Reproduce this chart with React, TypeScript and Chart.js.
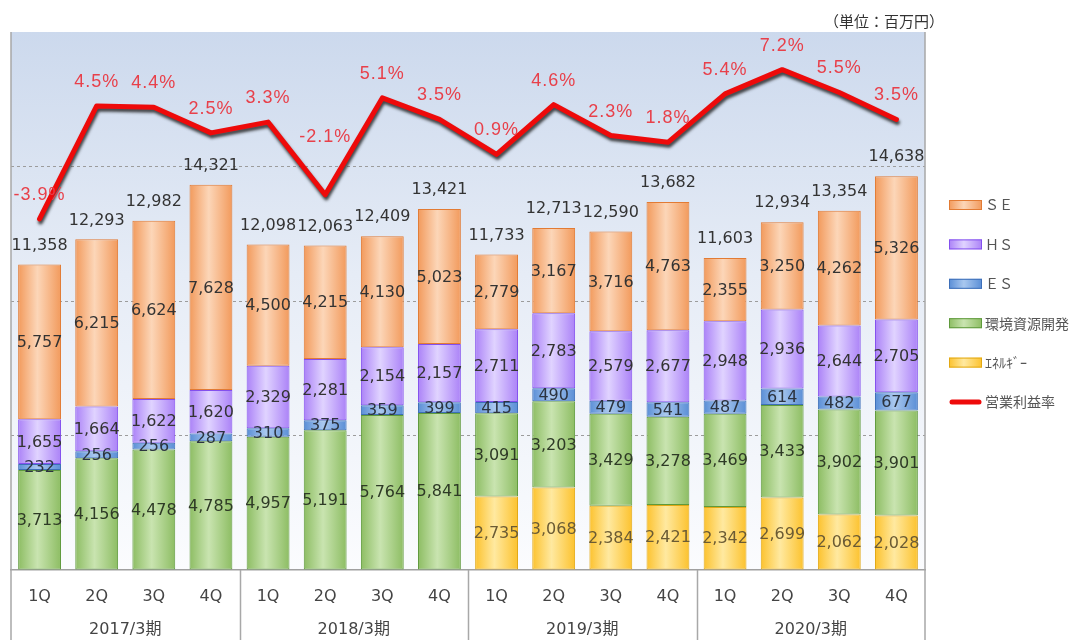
import React, { useEffect, useRef } from 'react';
import { Chart, registerables } from 'chart.js';

Chart.register(...registerables);

// ---------- data ----------
const quarters = ['1Q', '2Q', '3Q', '4Q', '1Q', '2Q', '3Q', '4Q', '1Q', '2Q', '3Q', '4Q', '1Q', '2Q', '3Q', '4Q'];
const fiscalYears = ['2017/3期', '2018/3期', '2019/3期', '2020/3期'];

const energy = [null, null, null, null, null, null, null, null, 2735, 3068, 2384, 2421, 2342, 2699, 2062, 2028];
const envResources = [3713, 4156, 4478, 4785, 4957, 5191, 5764, 5841, 3091, 3203, 3429, 3278, 3469, 3433, 3902, 3901];
const es = [232, 256, 256, 287, 310, 375, 359, 399, 415, 490, 479, 541, 487, 614, 482, 677];
const hs = [1655, 1664, 1622, 1620, 2329, 2281, 2154, 2157, 2711, 2783, 2579, 2677, 2948, 2936, 2644, 2705];
const se = [5757, 6215, 6624, 7628, 4500, 4215, 4130, 5023, 2779, 3167, 3716, 4763, 2355, 3250, 4262, 5326];
const totals = [11358, 12293, 12982, 14321, 12098, 12063, 12409, 13421, 11733, 12713, 12590, 13682, 11603, 12934, 13354, 14638];
const operatingMargin = [-3.9, 4.5, 4.4, 2.5, 3.3, -2.1, 5.1, 3.5, 0.9, 4.6, 2.3, 1.8, 5.4, 7.2, 5.5, 3.5];

const nameEnergy = 'ｴﾈﾙｷﾞｰ';
const nameEnv = '環境資源開発';
const nameES = 'ＥＳ';
const nameHS = 'ＨＳ';
const nameSE = 'ＳＥ';
const nameMargin = '営業利益率';
const unitNote = '（単位：百万円）';

// ---------- styles ----------
const FONT = "'DejaVu Sans', 'Noto Sans CJK JP', sans-serif";
const JFONT = "'Noto Sans CJK JP', 'DejaVu Sans', sans-serif";

const styleEnergy = { edge: '#fcc22e', mid: '#ffe9a0', border: '#e2a814', text: '#6b5b34' };
const styleEnv = { edge: '#8dbd63', mid: '#c9e4b0', border: '#5f9a3c', text: '#2e3a26' };
const styleES = { edge: '#5a8ed6', mid: '#a9c8ef', border: '#3d6fb8', text: '#2c3440' };
const styleHS = { edge: '#ab82f7', mid: '#e0d3ff', border: '#8450ee', text: '#333333' };
const styleSE = { edge: '#f29a5c', mid: '#fcd6b8', border: '#e27b34', text: '#333333' };
const lineColor = '#ee0a0a';
const pctColor = '#e8404a';

const BAR_FRACTION = 0.75;

function barFill(style: { edge: string; mid: string }) {
  return (ctx: any) => {
    const chart = ctx.chart;
    const area = chart.chartArea;
    const xs = chart.scales && chart.scales.x;
    if (!area || !xs) return style.edge;
    const w = area.right - area.left;
    const g = chart.ctx.createLinearGradient(area.left, 0, area.right, 0);
    const n = quarters.length;
    const half = (w / n) * BAR_FRACTION / 2;
    const clamp = (v: number) => Math.max(0, Math.min(1, v));
    for (let i = 0; i < n; i++) {
      const c = xs.getPixelForValue(i);
      g.addColorStop(clamp((c - half - area.left) / w), style.edge);
      g.addColorStop(clamp((c - half * 0.1 - area.left) / w), style.mid);
      g.addColorStop(clamp((c + half - area.left) / w), style.edge);
    }
    return g;
  };
}

const barSeries = [
  { label: nameEnergy, data: energy, style: styleEnergy },
  { label: nameEnv, data: envResources, style: styleEnv },
  { label: nameES, data: es, style: styleES },
  { label: nameHS, data: hs, style: styleHS },
  { label: nameSE, data: se, style: styleSE },
];

// ---------- plugins ----------
const backgroundPlugin = {
  id: 'bgGrad',
  beforeDraw(chart: any) {
    const { ctx, chartArea: a } = chart;
    const g = ctx.createLinearGradient(0, a.top, 0, a.bottom);
    g.addColorStop(0, '#ccd9ed');
    g.addColorStop(0.45, '#e6ecf6');
    g.addColorStop(1, '#fbfcfe');
    ctx.save();
    ctx.fillStyle = g;
    ctx.fillRect(a.left, a.top, a.right - a.left, a.bottom - a.top);
    ctx.restore();
  },
};

const framePlugin = {
  id: 'frame',
  afterDraw(chart: any) {
    const { ctx, chartArea: a } = chart;
    const xs = chart.scales.x;
    const bottom = chart.height;
    ctx.save();
    ctx.strokeStyle = '#a8a8a8';
    ctx.lineWidth = 1.5;
    ctx.beginPath();
    ctx.moveTo(a.left, a.top);
    ctx.lineTo(a.left, bottom);
    ctx.moveTo(a.right, a.top);
    ctx.lineTo(a.right, bottom);
    for (let k = 4; k < quarters.length; k += 4) {
      const x = Math.round((xs.getPixelForValue(k - 1) + xs.getPixelForValue(k)) / 2) + 0.5;
      ctx.moveTo(x, a.bottom);
      ctx.lineTo(x, bottom);
    }
    ctx.stroke();
    ctx.restore();
  },
};

const shadowPlugin = {
  id: 'lineShadow',
  beforeDatasetDraw(chart: any, args: any) {
    if (args.meta.type !== 'line') return;
    const c = chart.ctx;
    c.save();
    c.shadowColor = 'rgba(40,40,40,0.85)';
    c.shadowOffsetX = 1;
    c.shadowOffsetY = 3;
    c.shadowBlur = 3;
  },
  afterDatasetDraw(chart: any, args: any) {
    if (args.meta.type !== 'line') return;
    chart.ctx.restore();
  },
};

const fmt = (v: number) => v.toLocaleString('en-US');

const labelPlugin = {
  id: 'valueLabels',
  afterDatasetsDraw(chart: any) {
    const ctx = chart.ctx;
    ctx.save();
    ctx.textAlign = 'center';
    ctx.textBaseline = 'middle';
    ctx.font = `16px ${FONT}`;
    // segment labels
    barSeries.forEach((s, di) => {
      const meta = chart.getDatasetMeta(di);
      ctx.fillStyle = s.style.text;
      meta.data.forEach((el: any, i: number) => {
        const v = s.data[i];
        if (v == null) return;
        ctx.fillText(fmt(v as number), el.x, (el.y + el.base) / 2 + 1);
      });
    });
    // totals
    const topMeta = chart.getDatasetMeta(barSeries.length - 1);
    ctx.fillStyle = '#333333';
    topMeta.data.forEach((el: any, i: number) => {
      ctx.fillText(fmt(totals[i]), el.x, el.y - 19);
    });
    // margin labels
    const lineMeta = chart.getDatasetMeta(barSeries.length);
    ctx.fillStyle = pctColor;
    ctx.font = `18px 'Liberation Sans', Arial, sans-serif`;
    try { (ctx as any).letterSpacing = '1px'; } catch (e) {}
    lineMeta.data.forEach((pt: any, i: number) => {
      const v = operatingMargin[i];
      const lift = v < -2 && v > -3 ? 58 : 24;
      ctx.fillText(v.toFixed(1) + '%', pt.x, pt.y - lift);
    });
    ctx.restore();
  },
};

const legendPlugin = {
  id: 'sideLegend',
  afterDraw(chart: any) {
    const ctx = chart.ctx;
    ctx.save();
    // unit note
    ctx.font = `15px ${JFONT}`;
    ctx.fillStyle = '#333333';
    ctx.textAlign = 'right';
    ctx.textBaseline = 'middle';
    ctx.fillText(unitNote, 944, 21);

    const items = [...barSeries].reverse();
    const x0 = 949;
    const boxW = 33;
    const boxH = 10;
    let y = 205;
    const step = 39.4;
    ctx.textAlign = 'left';
    ctx.font = `14px ${JFONT}`;
    items.forEach((it) => {
      const g = ctx.createLinearGradient(x0, 0, x0 + boxW, 0);
      g.addColorStop(0, it.style.edge);
      g.addColorStop(0.45, it.style.mid);
      g.addColorStop(1, it.style.edge);
      ctx.fillStyle = g;
      ctx.fillRect(x0, y - boxH / 2, boxW, boxH);
      ctx.strokeStyle = it.style.border;
      ctx.lineWidth = 1;
      ctx.strokeRect(x0 + 0.5, y - boxH / 2 + 0.5, boxW - 1, boxH - 1);
      ctx.fillStyle = '#555555';
      ctx.fillText(it.label, x0 + boxW + 3, y);
      y += step;
    });
    ctx.strokeStyle = lineColor;
    ctx.lineWidth = 5;
    ctx.lineCap = 'round';
    ctx.beginPath();
    ctx.moveTo(x0 + 3, y);
    ctx.lineTo(x0 + boxW - 3, y);
    ctx.stroke();
    ctx.fillStyle = '#555555';
    ctx.fillText(nameMargin, x0 + boxW + 3, y);
    ctx.restore();
  },
};

export default function App() {
  const ref = useRef<HTMLCanvasElement>(null);
  useEffect(() => {
    document.body.style.margin = '0';
    const datasets: any[] = barSeries.map((s) => ({
      type: 'bar',
      label: s.label,
      data: s.data,
      backgroundColor: barFill(s.style),
      borderColor: s.style.border,
      borderWidth: 1,
      borderSkipped: false,
      barPercentage: BAR_FRACTION,
      categoryPercentage: 1,
      stack: 'sales',
      yAxisID: 'y',
      order: 1,
    }));
    datasets.push({
      type: 'line',
      label: nameMargin,
      data: operatingMargin,
      borderColor: lineColor,
      borderWidth: 5,
      pointRadius: 0,
      tension: 0,
      borderJoinStyle: 'round',
      borderCapStyle: 'round',
      yAxisID: 'y1',
      order: 0,
      clip: false,
    });
    const chart = new Chart(ref.current!, {
      type: 'bar',
      data: { labels: quarters, datasets },
      options: {
        responsive: false,
        animation: false,
        layout: { padding: { left: 11, top: 32, right: 151, bottom: 0 } },
        plugins: {
          legend: { display: false },
          tooltip: { enabled: false },
        },
        scales: {
          x: {
            type: 'category',
            stacked: true,
            offset: true,
            grid: { display: false, drawTicks: false },
            border: { display: true, color: '#a0a0a0', width: 1.5 },
            ticks: { font: { family: FONT, size: 16 }, color: '#444444', padding: 17, maxRotation: 0, autoSkip: false },
            afterFit: (s: any) => { s.height = 36; },
          },
          x2: {
            type: 'category',
            position: 'bottom',
            labels: fiscalYears,
            offset: true,
            grid: { display: false, drawTicks: false },
            border: { display: false },
            ticks: { font: { family: FONT, size: 16 }, color: '#444444', padding: 14, maxRotation: 0, autoSkip: false },
            afterFit: (s: any) => { s.height = 34; },
          },
          y: {
            stacked: true,
            min: 0,
            max: 20000,
            ticks: { display: false, stepSize: 5000 },
            grid: {
              drawTicks: false,
              color: (c: any) => (c.tick && c.tick.value > 0 && c.tick.value < 20000 ? '#9c9c9c' : 'rgba(0,0,0,0)'),
              lineWidth: 1,
            },
            border: { display: false, dash: [3, 3] },
            afterFit: (s: any) => { s.width = 0; },
          },
          y1: {
            display: false,
            position: 'right',
            min: -30,
            max: 10,
          },
        },
      } as any,
      plugins: [backgroundPlugin, framePlugin, shadowPlugin, labelPlugin, legendPlugin],
    } as any);
    return () => chart.destroy();
  }, []);
  return (
    <div style={{ width: 1076, height: 640 }}>
      <canvas ref={ref} width={1076} height={640} style={{ display: 'block' }} />
    </div>
  );
}
